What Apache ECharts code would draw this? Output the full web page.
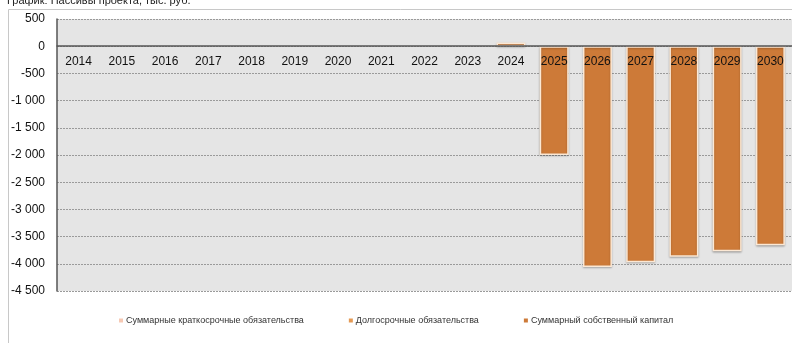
<!DOCTYPE html>
<html>
<head>
<meta charset="utf-8">
<script src="https://cdn.jsdelivr.net/npm/echarts@6/dist/echarts.min.js"></script>
<style>
html, body { margin: 0; padding: 0; background: #fff; }
#chart { width: 792px; height: 343px; }
</style>
</head>
<body>
<div id="chart"></div>
<script>
// Liabilities of the project by year, thousand roubles
const years = ['2014','2015','2016','2017','2018','2019','2020','2021','2022','2023','2024','2025','2026','2027','2028','2029','2030'];
const shortTermLiabilities = [0,0,0,0,0,0,0,0,0,0,0,0,0,0,0,0,0];
const longTermLiabilities  = [0,0,0,0,0,0,0,0,0,0,0,0,0,0,0,0,0];
const totalEquity          = [0,0,0,0,0,0,0,0,0,0,70,-2000,-4060,-3970,-3870,-3770,-3660];
const seriesNames = ['Суммарные краткосрочные обязательства','Долгосрочные обязательства','Суммарный собственный капитал'];
const seriesColors = ['#F6C9B4','#E59A55','#CD7A38'];

const Y_MIN = -4500, Y_MAX = 500, Y_STEP = 500;
const GRID_TOP = 19, GRID_H = 272;

const fontFamily = '"Liberation Sans", Arial, sans-serif';
const chart = echarts.init(document.getElementById('chart'), null, { renderer: 'canvas' });

function fmt(v) {
  const s = Math.abs(v).toString().replace(/\B(?=(\d{3})+(?!\d))/g, ' ');
  return (v < 0 ? '-' : '') + s;
}

// empty years get no outline or shadow
const equityData = totalEquity.map(v => v === 0
  ? { value: v, itemStyle: { borderWidth: 0, shadowBlur: 0, shadowOffsetY: 0, opacity: 0 } }
  : v);

// year labels sit just under the zero line, so lift them from the grid bottom
const zeroFromBottom = GRID_H * (0 - Y_MIN) / (Y_MAX - Y_MIN);
const labelMargin = 9 - zeroFromBottom;

chart.setOption({
  animation: false,
  backgroundColor: '#fff',
  title: {
    text: 'График: Пассивы проекта, тыс. руб.',
    left: 2, top: -10,
    textStyle: { fontFamily, fontSize: 11, fontWeight: 'normal', color: '#222' }
  },
  graphic: [{
    type: 'rect', z: -10, silent: true,
    shape: { x: 8.5, y: 9.5, width: 800, height: 400 },
    style: { fill: 'none', stroke: '#c8c8c8', lineWidth: 1 }
  }],
  grid: {
    left: 57, top: GRID_TOP, width: 741, height: GRID_H,
    show: true, backgroundColor: '#E5E5E5', borderWidth: 0
  },
  legend: {
    bottom: 13, left: 114, itemGap: 45,
    itemWidth: 4, itemHeight: 4, icon: 'rect',
    itemStyle: { borderWidth: 0, shadowBlur: 0 },
    textStyle: { fontFamily, fontSize: 9, color: '#333', padding: [0, 0, 0, -2] },
    data: seriesNames
  },
  xAxis: {
    type: 'category', data: years,
    axisLine: { onZero: true, onZeroAxisIndex: 0, lineStyle: { color: '#555', width: 1.5 } },
    axisTick: { show: false },
    axisLabel: { fontFamily, fontSize: 12, color: '#111', margin: labelMargin },
    z: 5
  },
  yAxis: {
    type: 'value', min: Y_MIN, max: Y_MAX, interval: Y_STEP,
    axisLine: { show: true, lineStyle: { color: '#555', width: 1.5 } },
    axisTick: { show: false },
    axisLabel: { fontFamily, fontSize: 12, color: '#111', margin: 12, formatter: fmt },
    splitLine: { lineStyle: { color: '#9a9a9a', type: [2, 1], width: 1 } }
  },
  series: [
    { name: seriesNames[0], type: 'bar', stack: 'p', data: shortTermLiabilities, barWidth: '67%',
      itemStyle: { color: seriesColors[0], borderWidth: 0 } },
    { name: seriesNames[1], type: 'bar', stack: 'p', data: longTermLiabilities, barWidth: '67%',
      itemStyle: { color: seriesColors[1], borderWidth: 0 } },
    { name: seriesNames[2], type: 'bar', stack: 'p', data: equityData, barWidth: '67%',
      itemStyle: { color: seriesColors[2], borderColor: '#FCE8D4', borderWidth: 1.5,
        shadowColor: 'rgba(0,0,0,0.25)', shadowBlur: 2, shadowOffsetY: 1 } }
  ]
});
</script>
</body>
</html>
